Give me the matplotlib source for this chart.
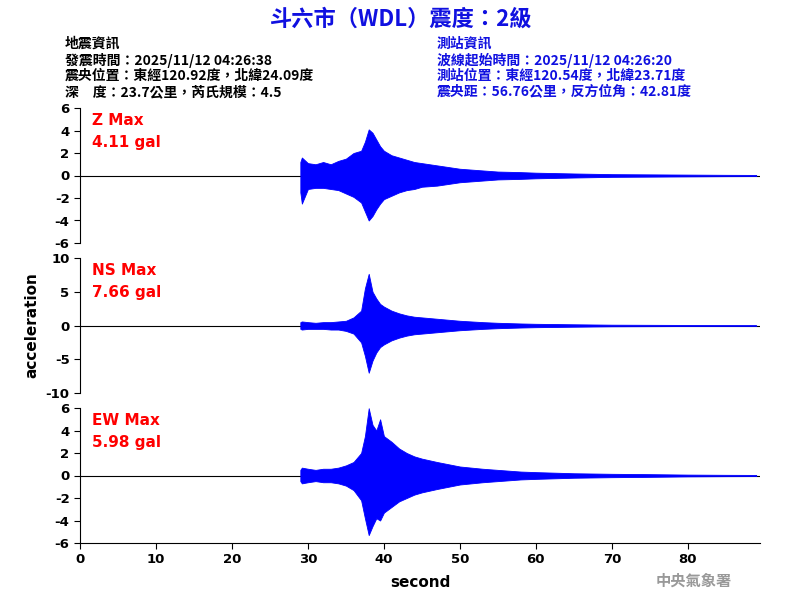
import matplotlib
matplotlib.use("Agg")
import matplotlib.pyplot as plt

plt.rcParams["font.family"] = ["DejaVu Sans", "Noto Sans CJK TC"]
plt.rcParams["axes.unicode_minus"] = False
CJK = ["Noto Sans CJK TC", "DejaVu Sans"]

# envelope of each trace, read per second from the picture
t = [29, 29.2, 30, 31, 32, 33, 34, 35, 36, 37, 37.5, 38, 38.5, 39, 39.5, 40, 41, 42, 43, 44, 45,
     47, 50, 53, 55, 58, 60, 65, 70, 75, 80, 85, 89]
z_up = [1.2, 1.6, 1.1, 1.0, 1.2, 1.0, 1.3, 1.5, 2.0, 2.2, 3.0, 4.1, 3.8, 3.2, 2.6, 2.2, 1.8, 1.6, 1.4,
        1.2, 1.1, 0.9, 0.6, 0.45, 0.35, 0.3, 0.25, 0.18, 0.12, 0.1, 0.08, 0.06, 0.05]
z_lo = [-1.5, -2.5, -1.2, -1.1, -1.1, -1.2, -1.3, -1.6, -1.9, -2.4, -3.2, -4.0, -3.6, -3.0, -2.5, -2.1,
        -1.8, -1.5, -1.3, -1.2, -1.0, -0.9, -0.6, -0.45, -0.35, -0.3, -0.25, -0.18, -0.12, -0.1, -0.08,
        -0.06, -0.05]
ns_up = [0.5, 0.6, 0.5, 0.4, 0.5, 0.5, 0.6, 0.7, 1.2, 2.2, 5.5, 7.66, 5.0, 4.0, 3.2, 2.8, 2.2, 1.8, 1.5,
         1.3, 1.2, 1.0, 0.7, 0.5, 0.4, 0.3, 0.25, 0.18, 0.12, 0.1, 0.08, 0.06, 0.05]
ns_lo = [-0.5, -0.6, -0.5, -0.5, -0.5, -0.6, -0.6, -0.8, -1.2, -2.5, -4.5, -7.0, -5.2, -4.0, -3.2, -2.8,
         -2.2, -1.8, -1.5, -1.3, -1.2, -1.0, -0.7, -0.5, -0.4, -0.3, -0.25, -0.18, -0.12, -0.1, -0.08,
         -0.06, -0.05]
ew_up = [0.5, 0.7, 0.6, 0.5, 0.6, 0.6, 0.7, 0.9, 1.2, 2.0, 3.5, 5.98, 4.5, 4.0, 5.0, 3.5, 3.0, 2.4, 2.0,
         1.7, 1.5, 1.2, 0.8, 0.6, 0.5, 0.35, 0.3, 0.2, 0.15, 0.12, 0.08, 0.06, 0.05]
ew_lo = [-0.5, -0.7, -0.6, -0.5, -0.6, -0.6, -0.7, -0.9, -1.3, -2.2, -3.8, -5.3, -4.5, -3.8, -4.0, -3.3,
         -2.8, -2.3, -2.0, -1.7, -1.5, -1.2, -0.8, -0.6, -0.5, -0.35, -0.3, -0.2, -0.15, -0.12, -0.08,
         -0.06, -0.05]

panels = [
    ("Z Max", "4.11 gal", z_up, z_lo, 6, [-6, -4, -2, 0, 2, 4, 6]),
    ("NS Max", "7.66 gal", ns_up, ns_lo, 10, [-10, -5, 0, 5, 10]),
    ("EW Max", "5.98 gal", ew_up, ew_lo, 6, [-6, -4, -2, 0, 2, 4, 6]),
]
boxes = [(0.595, 0.82), (0.345, 0.57), (0.095, 0.32)]

fig = plt.figure(figsize=(8, 6), dpi=100)
for i, ((name, peak, up, lo, lim, ticks), (b, top)) in enumerate(zip(panels, boxes)):
    ax = fig.add_axes([0.1, b, 0.85, top - b])
    ax.fill_between(t, lo, up, color="blue", linewidth=0.6, edgecolor="blue")
    ax.axhline(0, color="black", linewidth=0.8, zorder=0)
    ax.set_xlim(0, 89.5)
    ax.set_ylim(-lim, lim)
    ax.set_yticks(ticks)
    for s in ["top", "right"]:
        ax.spines[s].set_visible(False)
    ax.tick_params(labelsize=9.5, direction="out", length=4)
    for lbl in ax.get_yticklabels():
        lbl.set_fontweight("bold")
    ax.text(0.018, 0.96, name, transform=ax.transAxes, color="red", fontsize=11,
            fontweight="semibold", va="top")
    ax.text(0.018, 0.8, peak, transform=ax.transAxes, color="red", fontsize=11,
            fontweight="semibold", va="top")
    if i < 2:
        ax.spines["bottom"].set_visible(False)
        ax.set_xticks([])
    else:
        ax.set_xticks(range(0, 90, 10))
        for lbl in ax.get_xticklabels():
            lbl.set_fontweight("bold")
        ax.set_xlabel("second", fontsize=11, fontweight="bold", labelpad=6)

fig.text(0.04, 0.458, "acceleration", rotation=90, ha="center", va="center",
         fontsize=11, fontweight="bold")
fig.text(0.5, 0.968, "斗六市（WDL）震度：2級", ha="center", va="center", color="#1010e0",
         fontsize=16, fontweight="bold", family=CJK)
left = ["地震資訊", "發震時間：2025/11/12 04:26:38", "震央位置：東經120.92度，北緯24.09度",
        "深　度：23.7公里，芮氏規模：4.5"]
right = ["測站資訊", "波線起始時間：2025/11/12 04:26:20", "測站位置：東經120.54度，北緯23.71度",
         "震央距：56.76公里，反方位角：42.81度"]
for k, (a, c) in enumerate(zip(left, right)):
    y = 1 - (44 + 16 * k) / 600
    fig.text(0.081, y, a, color="black", fontsize=10, fontweight="bold", va="center", family=CJK)
    fig.text(0.546, y, c, color="#1010e0", fontsize=10, fontweight="bold", va="center", family=CJK)
fig.text(0.82, 0.033, "中央氣象署", color="#999999", fontsize=11, fontweight="bold", va="center",
         family=CJK)

fig.savefig("out.png")
